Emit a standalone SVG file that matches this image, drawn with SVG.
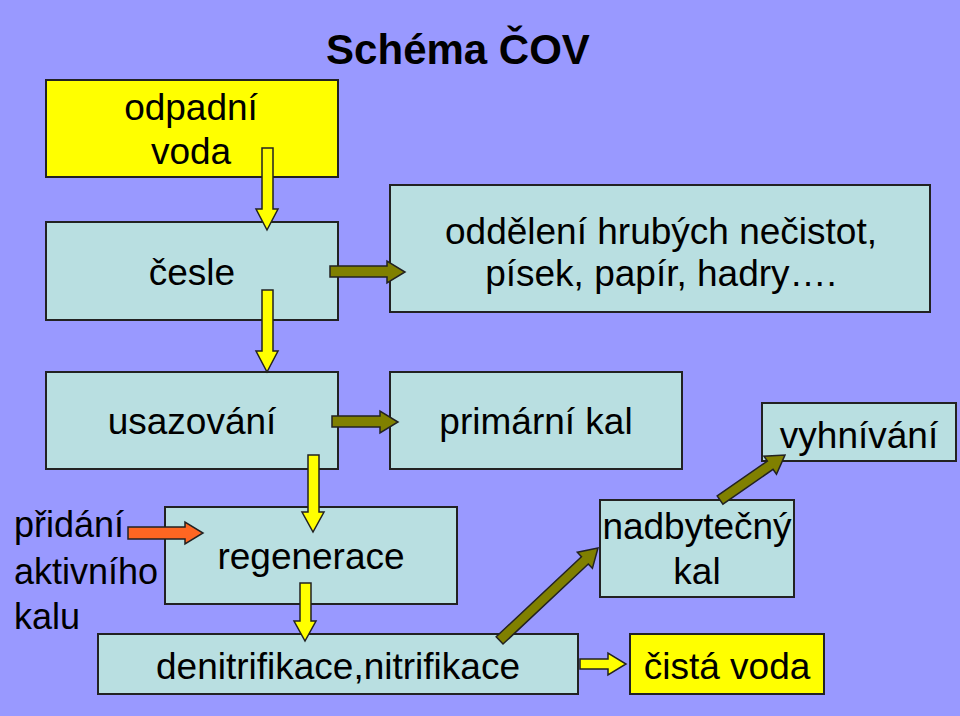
<svg xmlns="http://www.w3.org/2000/svg" width="960" height="716" viewBox="0 0 960 716">
<style>
text{font-family:"Liberation Sans",Arial,sans-serif;font-size:37px;fill:#000;text-anchor:middle}
.b{fill:#B9DFE1;stroke:#222;stroke-width:2}
.y{fill:#FFFF00;stroke:#222;stroke-width:2}
.a{stroke:#222;stroke-width:1.5}
</style>
<rect width="960" height="716" fill="#9999FF"/>
<text x="458" y="64" style="font-weight:bold;font-size:42px">Schéma ČOV</text>
<g id="odpadni"><rect class="y" x="46" y="80" width="292" height="97"/><text x="191" y="120">odpadní</text><text x="191" y="164">voda</text></g>
<g id="cesle"><rect class="b" x="46" y="222" width="292" height="98"/><text x="192" y="285">česle</text></g>
<g id="oddeleni"><rect class="b" x="390" y="185" width="540" height="127"/><text x="661" y="244">oddělení hrubých nečistot,</text><text x="661" y="286">písek, papír, hadry….</text></g>
<g id="usazovani"><rect class="b" x="46" y="372" width="292" height="97"/><text x="192" y="434">usazování</text></g>
<g id="primarni"><rect class="b" x="390" y="372" width="292" height="97"/><text x="536" y="434">primární kal</text></g>
<g id="vyhnivani"><rect class="b" x="762" y="403" width="194" height="58"/><text x="859" y="448">vyhnívání</text></g>
<g id="regenerace"><rect class="b" x="165" y="507" width="292" height="97"/><text x="311" y="569">regenerace</text></g>
<g id="nadbytecny"><rect class="b" x="600" y="500" width="194" height="97"/><text x="697" y="539">nadbytečný</text><text x="697" y="584">kal</text></g>
<g id="denitrifikace"><rect class="b" x="98" y="634" width="480" height="60"/><text x="338" y="679">denitrifikace,nitrifikace</text></g>
<g id="cista"><rect class="y" x="630" y="634" width="194" height="60"/><text x="727" y="679">čistá voda</text></g>
<g id="pridani"><text x="14" y="537" style="text-anchor:start;font-size:36px">přidání</text><text x="14" y="584" style="text-anchor:start;font-size:36px">aktivního</text><text x="14" y="629" style="text-anchor:start;font-size:36px">kalu</text></g>
<g id="connectors" class="a">
<path fill="#FFFF00" class="a" d="M262,148 H273 V209 H278 L267,230 L256,209 H262 Z"/>
<path fill="#FFFF00" class="a" d="M262,290 H273 V351 H278 L267,372 L256,351 H262 Z"/>
<path fill="#FFFF00" class="a" d="M308,455 H319 V512 H324 L313,532 L302,512 H308 Z"/>
<path fill="#FFFF00" class="a" d="M300,583 H311 V621 H316 L305,641 L294,621 H300 Z"/>
<path fill="#808000" class="a" d="M330,266 H387 V261 L405,272 L387,283 V277 H330 Z"/>
<path fill="#808000" class="a" d="M332,416 H380 V411 L398,422 L380,433 V427 H332 Z"/>
<path fill="#FF6622" class="a" d="M128,527 H185 V522 L203,533 L185,544 V539 H128 Z"/>
<path fill="#FFFF00" class="a" d="M580,659 H608 V653 L626,664 L608,675 V669 H580 Z"/>
<path fill="#808000" class="a" transform="translate(598,548) rotate(-43.2)" d="M-135,-5 H-18 V-11 L0,0 L-18,11 V5 H-135 Z"/>
<path fill="#808000" class="a" transform="translate(785,455) rotate(-34.7)" d="M-79,-5 H-18 V-11 L0,0 L-18,11 V5 H-79 Z"/>
</g>
</svg>
